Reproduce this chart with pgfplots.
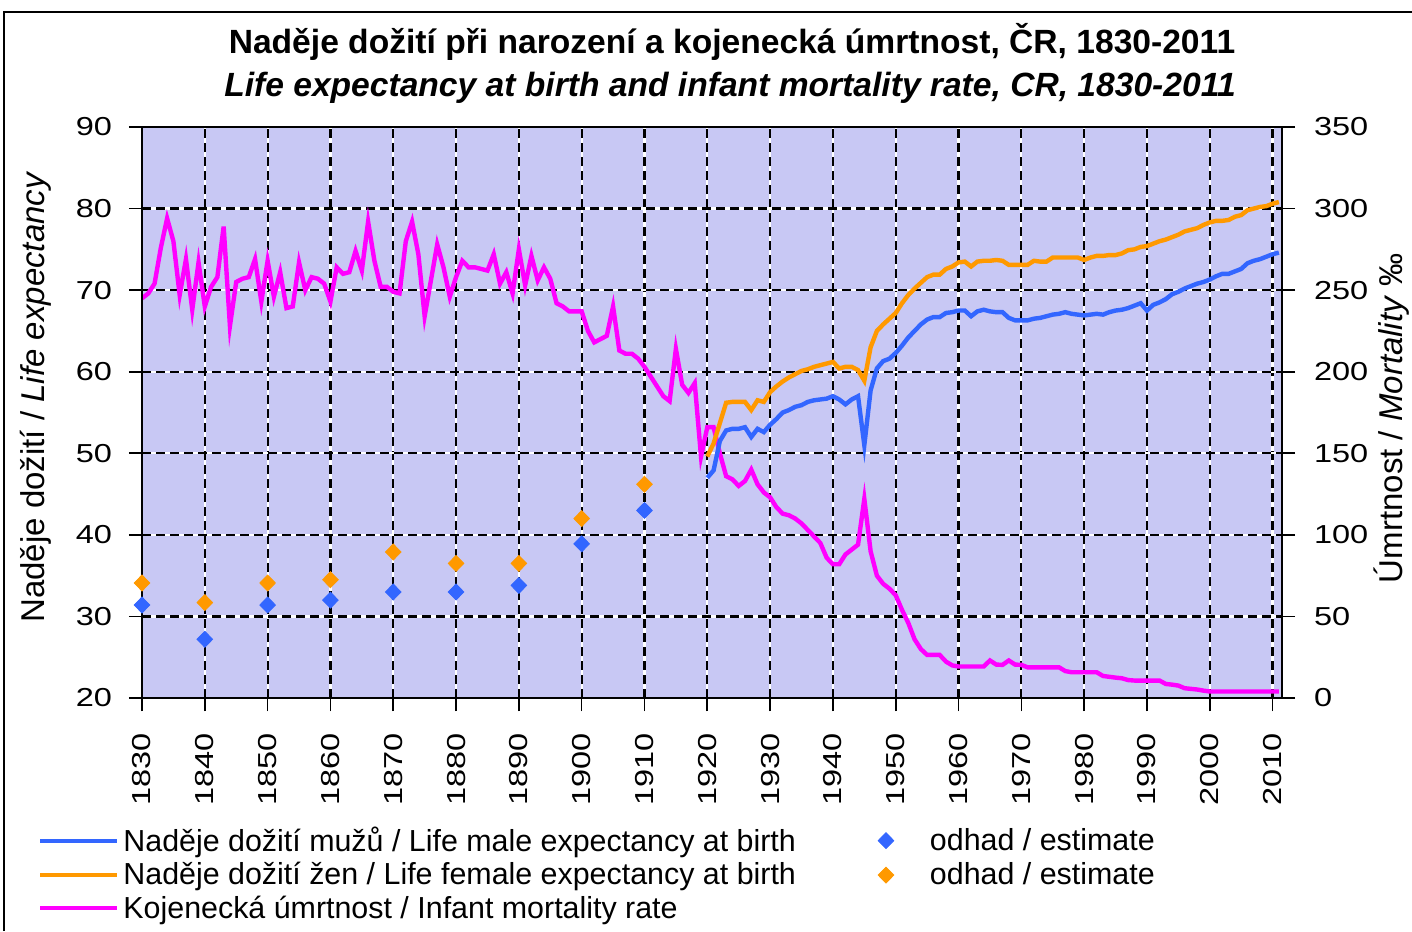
\documentclass[border=0pt]{standalone}
\usepackage{fontspec}
\setmainfont{Liberation Sans}
\newfontfamily\tickfont[FakeStretch=1.25]{Liberation Sans}
\usepackage{pgfplots}
\usepackage{pgfplotstable}
\pgfplotsset{compat=1.18}
\usepackage{xcolor}
\definecolor{plotbg}{HTML}{C8C8F4}
\definecolor{male}{HTML}{3366FF}
\definecolor{female}{HTML}{FF9900}
\definecolor{infant}{HTML}{FF00FF}

% infant mortality, per mille
\pgfplotstableread{
year m
1830 245
1831 248
1832 254
1833 276
1834 294
1835 280
1836 247
1837 269
1838 238
1839 267
1840 240
1841 252
1842 258
1843 289
1844 228
1845 255
1846 257
1847 258
1848 269
1849 243
1850 268
1851 246
1852 261
1853 239
1854 240
1855 267
1856 250
1857 258
1858 257
1859 254
1860 243
1861 264
1862 260
1863 261
1864 274
1865 262
1866 292
1867 268
1868 252
1869 252
1870 249
1871 248
1872 280
1873 292
1874 272
1875 234
1876 256
1877 278
1878 264
1879 246
1880 258
1881 268
1882 264
1883 264
1884 263
1885 262
1886 272
1887 254
1888 261
1889 248
1890 275
1891 253
1892 271
1893 256
1894 264
1895 257
1896 242
1897 240
1898 237
1899 237
1900 237
1901 225
1902 218
1903 220
1904 222
1905 240
1906 213
1907 211
1908 211
1909 208
1910 203
1911 197
1912 191
1913 185
1914 182
1915 214
1916 192
1917 187
1918 193
1919 148
1920 166
1921 166
1922 150
1923 136
1924 134
1925 130
1926 133
1927 140
1928 131
1929 126
1930 123
1931 117
1932 113
1933 112
1934 110
1935 107
1936 103
1937 99
1938 95
1939 86
1940 82
1941 82
1942 88
1943 91
1944 94
1945 122
1946 90
1947 75
1948 70
1949 67
1950 63
1951 54
1952 46
1953 36
1954 30
1955 26.4
1956 26.4
1957 26.4
1958 22.3
1959 20
1960 19.3
1961 19.3
1962 19.3
1963 19.3
1964 19.3
1965 23
1966 20.5
1967 20.3
1968 23
1969 20.5
1970 20.3
1971 18.8
1972 18.8
1973 18.8
1974 18.8
1975 18.8
1976 18.8
1977 16.5
1978 15.8
1979 15.8
1980 15.8
1981 15.8
1982 15.8
1983 13.5
1984 13
1985 12.5
1986 12.1
1987 11
1988 10.7
1989 10.7
1990 10.7
1991 10.7
1992 10.7
1993 8.6
1994 8.2
1995 7.6
1996 6
1997 5.6
1998 5.2
1999 4.5
2000 4
2001 4
2002 4
2003 4
2004 4
2005 4
2006 4
2007 4
2008 4
2009 4
2010 4
2011 4
}\mortality

% life expectancy at birth
\pgfplotstableread{
year male female
1920 47.0 49.6
1921 47.9 51.2
1922 51.5 53.7
1923 52.8 56.2
1924 53.0 56.3
1925 53.0 56.3
1926 53.2 56.3
1927 52.0 55.3
1928 53.0 56.5
1929 52.6 56.3
1930 53.5 57.5
1931 54.2 58.2
1932 55.0 58.8
1933 55.3 59.3
1934 55.7 59.7
1935 55.9 60.1
1936 56.3 60.3
1937 56.5 60.6
1938 56.6 60.8
1939 56.7 61.0
1940 57.0 61.2
1941 56.6 60.4
1942 56.0 60.6
1943 56.6 60.6
1944 57.0 60.2
1945 51.0 58.9
1946 57.7 63.0
1947 60.4 65.0
1948 61.3 65.8
1949 61.6 66.5
1950 62.3 67.2
1951 63.2 68.4
1952 64.2 69.4
1953 65.0 70.2
1954 65.8 70.9
1955 66.4 71.6
1956 66.7 71.9
1957 66.7 71.9
1958 67.2 72.6
1959 67.3 72.9
1960 67.5 73.4
1961 67.5 73.5
1962 66.8 72.9
1963 67.4 73.5
1964 67.6 73.6
1965 67.4 73.6
1966 67.3 73.7
1967 67.3 73.6
1968 66.6 73.1
1969 66.3 73.1
1970 66.3 73.1
1971 66.3 73.1
1972 66.5 73.6
1973 66.6 73.5
1974 66.8 73.5
1975 67.0 74.0
1976 67.1 74.0
1977 67.3 74.0
1978 67.1 74.0
1979 67.0 74.0
1980 66.9 73.7
1981 67.0 74.0
1982 67.1 74.2
1983 67.0 74.2
1984 67.3 74.3
1985 67.5 74.3
1986 67.6 74.5
1987 67.8 74.9
1988 68.1 75.0
1989 68.4 75.3
1990 67.5 75.4
1991 68.2 75.7
1992 68.5 76.0
1993 68.9 76.2
1994 69.5 76.5
1995 69.8 76.8
1996 70.2 77.2
1997 70.5 77.4
1998 70.8 77.6
1999 71.0 78.0
2000 71.3 78.3
2001 71.7 78.5
2002 72.0 78.5
2003 72.0 78.6
2004 72.3 79.0
2005 72.6 79.2
2006 73.3 79.8
2007 73.6 80.0
2008 73.8 80.2
2009 74.1 80.3
2010 74.4 80.6
2011 74.6 80.8
}\lifeexp

% estimates
\pgfplotstableread{
year male female
1830 31.4 34.1
1840 27.2 31.7
1850 31.4 34.1
1860 32.0 34.5
1870 33.0 37.9
1880 33.0 36.5
1890 33.8 36.5
1900 38.9 42.0
1910 43.0 46.2
}\estimate

\pgfplotsset{
  cz/.style={
    at={(71pt,-349pt)}, anchor=south west,
    scale only axis, width=570pt, height=285.5pt,
    xmin=1830, xmax=2011.5,
    xtick={1830,1840,...,2010},
    tick align=outside, major tick length=6.5pt,
    axis line style={line width=1pt},
    every tick/.style={black, line width=0.8pt},
    tick label style={font=\tickfont\fontsize{13}{15}\selectfont},
    /pgf/number format/assume math mode=true,
    /pgf/number format/1000 sep={},
  },
  lineleg/.style={legend image code/.code={\draw[##1] (0pt,0pt) -- (38.5pt,0pt);}},
  markleg/.style={legend image code/.code={%
    \path[draw=none, fill=none] (0pt,0pt) -- (28pt,0pt);
    \draw[##1] plot coordinates {(8pt,0pt)};}},
}

\begin{document}
\begin{tikzpicture}
\path[use as bounding box] (0,0) rectangle (706pt,-465.5pt);
\draw[line width=1pt] (1.75pt,-465.5pt) -- (1.75pt,-6pt) -- (706pt,-6pt);

\node[font=\bfseries\fontsize{16.8}{19}\selectfont] at (366pt,-21pt)
  {Naděje dožití při narození a kojenecká úmrtnost, ČR, 1830-2011};
\node[font=\bfseries\itshape\fontsize{16.8}{19}\selectfont] at (365pt,-44pt)
  {Life expectancy at birth and infant mortality rate, CR, 1830-2011};

% mortality axis (right), carries background and grid
\begin{axis}[cz,
  ymin=0, ymax=350, ytick={0,50,...,350},
  axis background/.style={fill=plotbg},
  xticklabels={}, xtick pos=left,
  ytick pos=right, yticklabel pos=right,
  yticklabel style={xshift=6pt},
  grid=major,
  grid style={black, line width=1.1pt, dash pattern=on 4.5pt off 2.5pt,
    preaction={draw=white, solid, line width=1.1pt}},
  ylabel={Úmrtnost / \textit{Mortality} ‰},
  every axis y label/.style={at={(rel axis cs:1.0965,0.49)}, rotate=90,
    anchor=center, font=\fontsize{16.5}{19}\selectfont},
]
\addplot[infant, line width=2.2pt] table[x=year, y=m] {\mortality};
\end{axis}

% life expectancy axis (left)
\begin{axis}[cz,
  ymin=20, ymax=90, ytick={20,30,...,90},
  ytick pos=left, xtick pos=left,
  yticklabel style={xshift=-5pt},
  xticklabel style={rotate=90, anchor=east, xshift=-7.5pt},
  ylabel={Naděje dožití / \textit{Life expectancy}},
  every axis y label/.style={at={(rel axis cs:-0.093,0.527)}, rotate=90,
    anchor=center, font=\fontsize{16.5}{19}\selectfont},
  legend columns=2,
  legend cell align=left,
  legend style={at={(-0.0912,-0.218)}, anchor=north west, draw=none,
    fill=none, inner sep=0pt, font=\fontsize{15.2}{17}\selectfont,
    row sep=0pt, /tikz/every even column/.append style={column sep=35pt}},
]
\addplot[male, line width=2.2pt, forget plot] table[x=year, y=male] {\lifeexp};
\addplot[female, line width=2.2pt, forget plot] table[x=year, y=female] {\lifeexp};
\addplot[only marks, mark=diamond*, mark size=4pt, male,
  mark options={xscale=1.3}, forget plot] table[x=year, y=male] {\estimate};
\addplot[only marks, mark=diamond*, mark size=4pt, female,
  mark options={xscale=1.3}, forget plot] table[x=year, y=female] {\estimate};

\addlegendimage{male, line width=2pt, lineleg}
\addlegendentry{Naděje dožití mužů / Life male expectancy at birth}
\addlegendimage{only marks, mark=diamond*, mark size=4pt, male,
  mark options={xscale=1.3}, markleg}
\addlegendentry{odhad / estimate}
\addlegendimage{female, line width=2pt, lineleg}
\addlegendentry{Naděje dožití žen / Life female expectancy at birth}
\addlegendimage{only marks, mark=diamond*, mark size=4pt, female,
  mark options={xscale=1.3}, markleg}
\addlegendentry{odhad / estimate}
\addlegendimage{infant, line width=2pt, lineleg}
\addlegendentry{Kojenecká úmrtnost / Infant mortality rate}
\end{axis}
\end{tikzpicture}
\end{document}
